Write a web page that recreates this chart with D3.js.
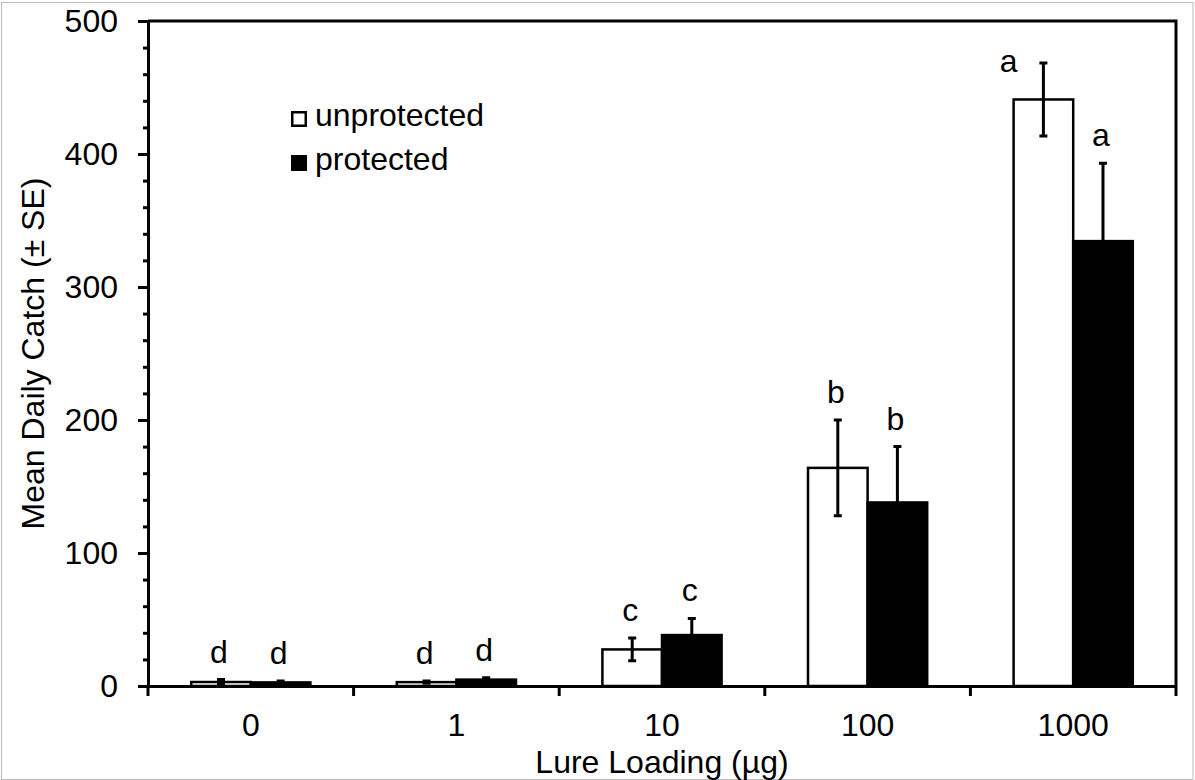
<!DOCTYPE html>
<html>
<head>
<meta charset="utf-8">
<script src="https://cdn.jsdelivr.net/npm/d3@7"></script>
<style>
  html, body { margin: 0; padding: 0; background: #fff; }
  svg { display: block; }
  text { font-family: "Liberation Sans", Arial, sans-serif; fill: #000; }
</style>
</head>
<body>
<svg id="chart" width="1195" height="780"></svg>
<script>
// Lure loading treatments (µg) and the two trap types
const categories = ["0", "1", "10", "100", "1000"];
const seriesNames = ["unprotected", "protected"];

// Mean daily catch per treatment
const unprotectedMean = [3.0, 2.9, 27.5, 164, 441];
const protectedMean   = [2.7, 4.8, 38.3, 138, 334.5];

// Standard errors
const unprotectedSE = [1.8, 0.9, 8.5, 36, 27.5];
const protectedSE   = [1.0, 1.4, 12.5, 42, 58.5];

// Significance letters
const unprotectedLetters = ["d", "d", "c", "b", "a"];
const protectedLetters   = ["d", "d", "c", "b", "a"];

// y axis ticks
const yMajorTicks = [0, 100, 200, 300, 400, 500];
const yMinorTicks = d3.range(0, 501, 20);

const svg = d3.select("#chart");
const W = 1195, H = 780;
const margin = { left: 148, right: 19, top: 21, bottom: 94 };
const plotW = W - margin.left - margin.right;
const plotH = H - margin.top - margin.bottom;
const FONT = 32;

// outer frame
svg.append("rect")
  .attr("x", 1.5).attr("y", 2.5)
  .attr("width", W - 3.5).attr("height", H - 3)
  .attr("fill", "none").attr("stroke", "#bdbdbd").attr("stroke-width", 1);

const g = svg.append("g").attr("transform", `translate(${margin.left},${margin.top})`);

const x = d3.scaleBand().domain(categories).range([0, plotW]).paddingInner(0).paddingOuter(0);
const xs = d3.scaleBand().domain(seriesNames).range([0, x.bandwidth()]).paddingInner(0).paddingOuter(0.725);
const y = d3.scaleLinear().domain([0, 500]).range([plotH, 0]);

const rows = categories.map((c, i) => [
  { cat: c, s: "unprotected", v: unprotectedMean[i], se: unprotectedSE[i], letter: unprotectedLetters[i] },
  { cat: c, s: "protected",   v: protectedMean[i],   se: protectedSE[i],   letter: protectedLetters[i] }
]).flat();

// plot-area frame (top and right)
g.append("path")
  .attr("d", `M0,0H${plotW}V${plotH}`)
  .attr("fill", "none").attr("stroke", "#000").attr("stroke-width", 3);

// bars
g.selectAll("rect.bar").data(rows).join("rect")
  .attr("class", "bar")
  .attr("x", d => x(d.cat) + xs(d.s))
  .attr("y", d => y(d.v))
  .attr("width", xs.bandwidth())
  .attr("height", d => y(0) - y(d.v))
  .attr("fill", d => d.s === "protected" ? "#000" : "#fff")
  .attr("stroke", "#000").attr("stroke-width", 2.5);

// error bars
const cap = 4;
const eb = g.selectAll("g.err").data(rows).join("g").attr("class", "err")
  .attr("transform", d => `translate(${x(d.cat) + xs(d.s) + xs.bandwidth() / 2},0)`);
eb.append("path")
  .attr("d", d => {
    const t = y(d.v + d.se), b = y(Math.max(0, d.v - d.se));
    return `M0,${t}V${b}M${-cap},${t}H${cap}M${-cap},${b}H${cap}`;
  })
  .attr("fill", "none").attr("stroke", "#000").attr("stroke-width", 3);

// significance letters; one sitting too close to the frame goes beside its bar
eb.append("text")
  .text(d => d.letter)
  .attr("font-size", FONT)
  .attr("text-anchor", "middle")
  .each(function (d) {
    const top = y(d.v + d.se);
    const sel = d3.select(this);
    if (top - 17 - 24 < 30) {
      sel.attr("x", -xs.bandwidth() / 2 - 5).attr("y", top + 9);
    } else {
      sel.attr("x", -2).attr("y", top - 17);
    }
  });

// y axis: minor ticks, then major ticks with labels
g.append("g").call(d3.axisLeft(y).tickValues(yMinorTicks).tickSize(5).tickFormat(""))
  .call(a => a.selectAll("line").attr("stroke-width", 3))
  .call(a => a.select(".domain").remove());
g.append("g").call(d3.axisLeft(y).tickValues(yMajorTicks).tickSize(10).tickSizeOuter(0).tickPadding(20))
  .call(a => a.select(".domain").attr("stroke-width", 3))
  .call(a => a.selectAll("line").attr("stroke-width", 3))
  .call(a => a.selectAll("text").attr("font-size", FONT).attr("font-family", null));

// x axis: labels at band centres, ticks on band boundaries
const xa = g.append("g").attr("transform", `translate(0,${plotH})`)
  .call(d3.axisBottom(x).tickSize(0).tickSizeOuter(0))
  .call(a => a.select(".domain").attr("stroke-width", 3))
  .call(a => a.selectAll("text").attr("font-size", FONT).attr("font-family", null)
    .attr("y", 50).attr("dy", 0));
const bounds = categories.map(c => x(c)).concat([x.range()[1]]);
xa.selectAll("line.bound").data(bounds).join("line")
  .attr("class", "bound")
  .attr("x1", d => d).attr("x2", d => d)
  .attr("y1", 0).attr("y2", 10)
  .attr("stroke", "#000").attr("stroke-width", 3);

// axis titles
svg.append("text")
  .attr("transform", `translate(44,${margin.top + plotH / 2}) rotate(-90)`)
  .attr("text-anchor", "middle").attr("font-size", FONT)
  .text("Mean Daily Catch (± SE)");
svg.append("text")
  .attr("x", margin.left + plotW / 2).attr("y", 773)
  .attr("text-anchor", "middle").attr("font-size", FONT)
  .text("Lure Loading (µg)");

// legend
const legend = svg.append("g").attr("transform", "translate(291,111)");
seriesNames.forEach((s, i) => {
  const row = legend.append("g").attr("transform", `translate(0,${i * 44})`);
  row.append("rect")
    .attr("x", 1.25).attr("y", 1.25).attr("width", 13.5).attr("height", 13.5)
    .attr("fill", s === "protected" ? "#000" : "#fff")
    .attr("stroke", "#000").attr("stroke-width", 2.5);
  row.append("text").attr("x", 24).attr("y", 15).attr("font-size", FONT).text(s);
});
</script>
</body>
</html>
